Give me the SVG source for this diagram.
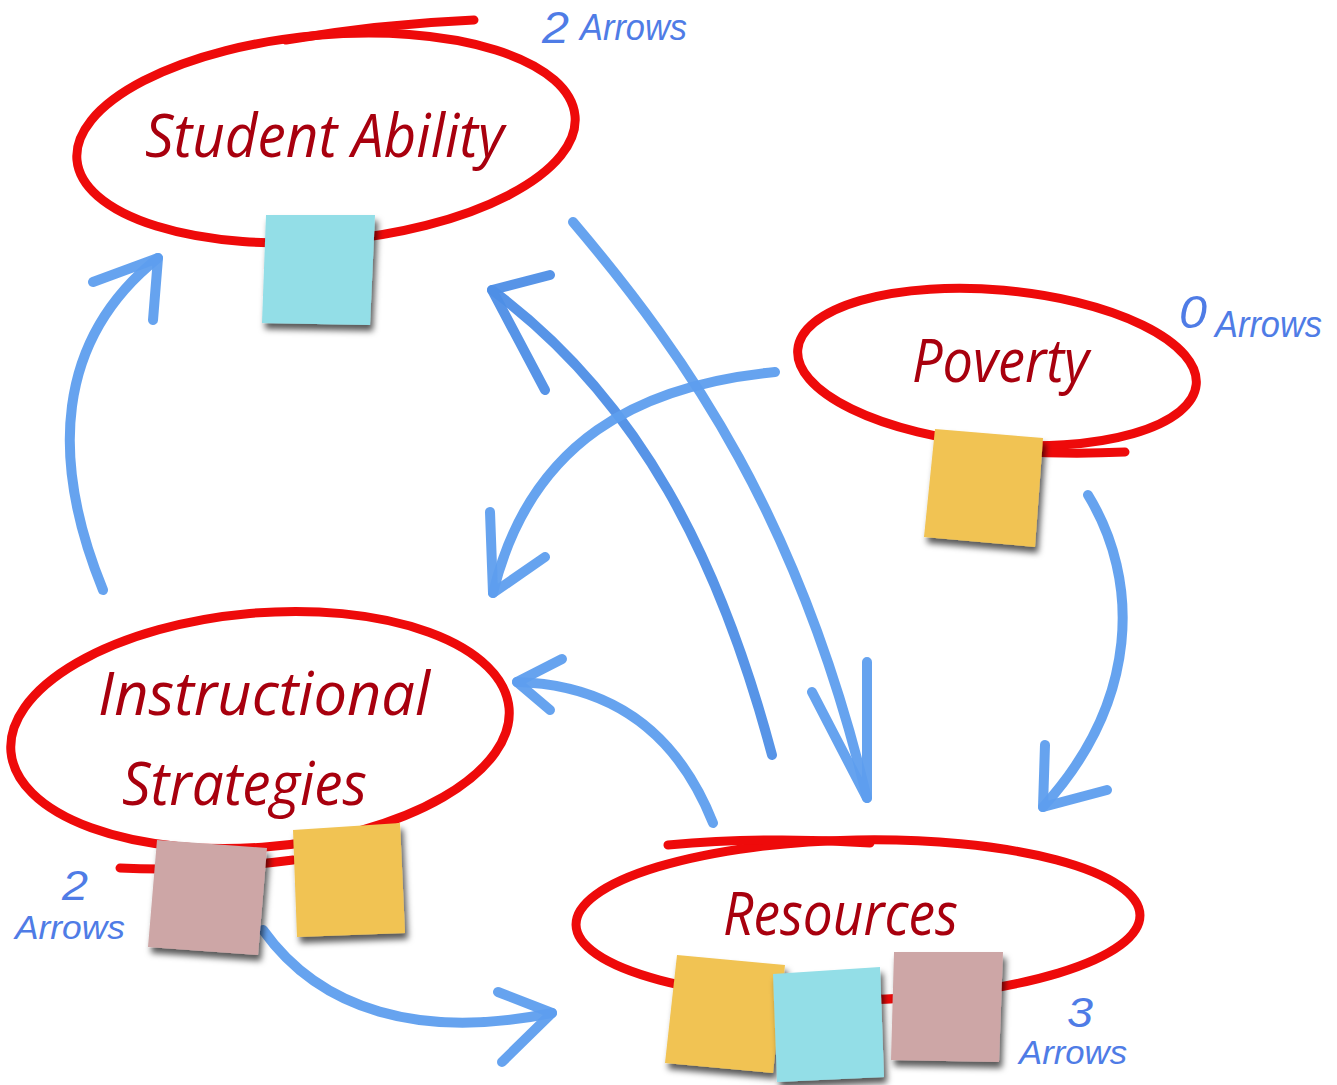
<svg xmlns="http://www.w3.org/2000/svg" width="1337" height="1085" viewBox="0 0 1337 1085">
<style>
.ring{fill:none;stroke:#ee0a0a;stroke-width:9;stroke-linecap:round}
.lbl{font-family:"Open Sans","Liberation Sans",sans-serif;font-style:italic;fill:#a8000e;font-size:60px}
.cnt{font-family:"Liberation Sans",Arial,sans-serif;font-style:italic;fill:#4f7ce6}
.arr{fill:none;stroke:#5e9eee;stroke-width:10;stroke-linecap:round;stroke-linejoin:round;opacity:0.95}
.arr2{stroke:#4e8ee6}
.cyan{fill:#93dee7}
.orange{fill:#f1c352}
.pink{fill:#cda6a6}
</style>
<defs>
<filter id="sh" x="-20%" y="-20%" width="150%" height="150%">
<feDropShadow dx="3" dy="6" stdDeviation="3" flood-color="#000" flood-opacity="0.65"/>
</filter>
</defs>
<rect width="1337" height="1085" fill="#ffffff"/>

<g id="connectors">
<g id="c-instr-student">
<path class="arr" d="M103,590 C50,460 55,340 158,258"/>
<path class="arr" d="M93,282 L158,258 L153,320"/>
</g>
<g id="c-res-instr">
<path class="arr" d="M713,823 C680,740 620,685 517,682"/>
<path class="arr" d="M562,659 L517,682 L550,710"/>
</g>
<g id="c-res-student">
<path class="arr arr2" d="M772,755 C720,560 640,400 492,290"/>
<path class="arr arr2" d="M550,275 L492,290 L545,390"/>
</g>
<g id="c-student-res">
<path class="arr" d="M573,222 C690,360 800,520 867,798"/>
<path class="arr" d="M812,692 L867,798 L867,662"/>
</g>
<g id="c-pov-instr">
<path class="arr" d="M775,372 C640,385 530,440 493,593"/>
<path class="arr" d="M490,512 L493,593 L545,557"/>
</g>
<g id="c-pov-res">
<path class="arr" d="M1088,495 C1140,580 1140,700 1043,807"/>
<path class="arr" d="M1045,745 L1043,807 L1107,790"/>
</g>
<g id="c-instr-res">
<path class="arr" d="M263,930 C320,1010 420,1040 552,1013"/>
<path class="arr" d="M498,992 L552,1013 L502,1062"/>
</g>
</g>

<g id="node-student-ability">
<ellipse class="ring" cx="326" cy="138" rx="250" ry="103" transform="rotate(-5 326 138)"/>
<path class="ring" d="M286,40 Q380,24 474,20"/>
<text class="lbl" x="145" y="157" textLength="359" lengthAdjust="spacingAndGlyphs">Student Ability</text>
<polygon class="cyan" filter="url(#sh)" points="266,215 375,215 370,325 262,323"/>
<text class="cnt" x="542" y="43" font-size="44" textLength="27" lengthAdjust="spacingAndGlyphs">2</text>
<text class="cnt" x="580" y="40" font-size="36" textLength="107" lengthAdjust="spacingAndGlyphs">Arrows</text>
</g>

<g id="node-poverty">
<ellipse class="ring" cx="997" cy="367" rx="200" ry="77" transform="rotate(5 997 367)"/>
<path class="ring" d="M1000,450 Q1060,455 1125,452"/>
<text class="lbl" x="912" y="382" textLength="177" lengthAdjust="spacingAndGlyphs">Poverty</text>
<polygon class="orange" filter="url(#sh)" points="935,429 1043,438 1035,547 924,537"/>
<text class="cnt" x="1179" y="328" font-size="46" textLength="28" lengthAdjust="spacingAndGlyphs">0</text>
<text class="cnt" x="1215" y="337" font-size="36" textLength="107" lengthAdjust="spacingAndGlyphs">Arrows</text>
</g>

<g id="node-instructional-strategies">
<ellipse class="ring" cx="260" cy="730" rx="250" ry="117" transform="rotate(-5 260 730)"/>
<path class="ring" d="M120,868 Q200,872 293,860"/>
<text class="lbl" x="98" y="715" textLength="332" lengthAdjust="spacingAndGlyphs">Instructional</text>
<text class="lbl" x="122" y="805" textLength="245" lengthAdjust="spacingAndGlyphs">Strategies</text>
<polygon class="pink" filter="url(#sh)" points="157,840 267,848 258,955 148,947"/>
<polygon class="orange" filter="url(#sh)" points="293,830 400,823 405,933 297,937"/>
<text class="cnt" x="62" y="900" font-size="42" textLength="26" lengthAdjust="spacingAndGlyphs">2</text>
<text class="cnt" x="15" y="939" font-size="34" textLength="110" lengthAdjust="spacingAndGlyphs">Arrows</text>
</g>

<g id="node-resources">
<ellipse class="ring" cx="858" cy="920" rx="282" ry="80" transform="rotate(-1 858 920)"/>
<path class="ring" d="M668,845 Q770,836 870,843"/>
<text class="lbl" x="723" y="935" textLength="235" lengthAdjust="spacingAndGlyphs">Resources</text>
<polygon class="orange" filter="url(#sh)" points="677,955 785,965 773,1073 665,1063"/>
<polygon class="cyan" filter="url(#sh)" points="773,974 880,967 884,1077 777,1082"/>
<polygon class="pink" filter="url(#sh)" points="894,952 1003,952 999,1062 891,1060"/>
<text class="cnt" x="1067" y="1027" font-size="42" textLength="26" lengthAdjust="spacingAndGlyphs">3</text>
<text class="cnt" x="1019" y="1064" font-size="34" textLength="108" lengthAdjust="spacingAndGlyphs">Arrows</text>
</g>
</svg>
